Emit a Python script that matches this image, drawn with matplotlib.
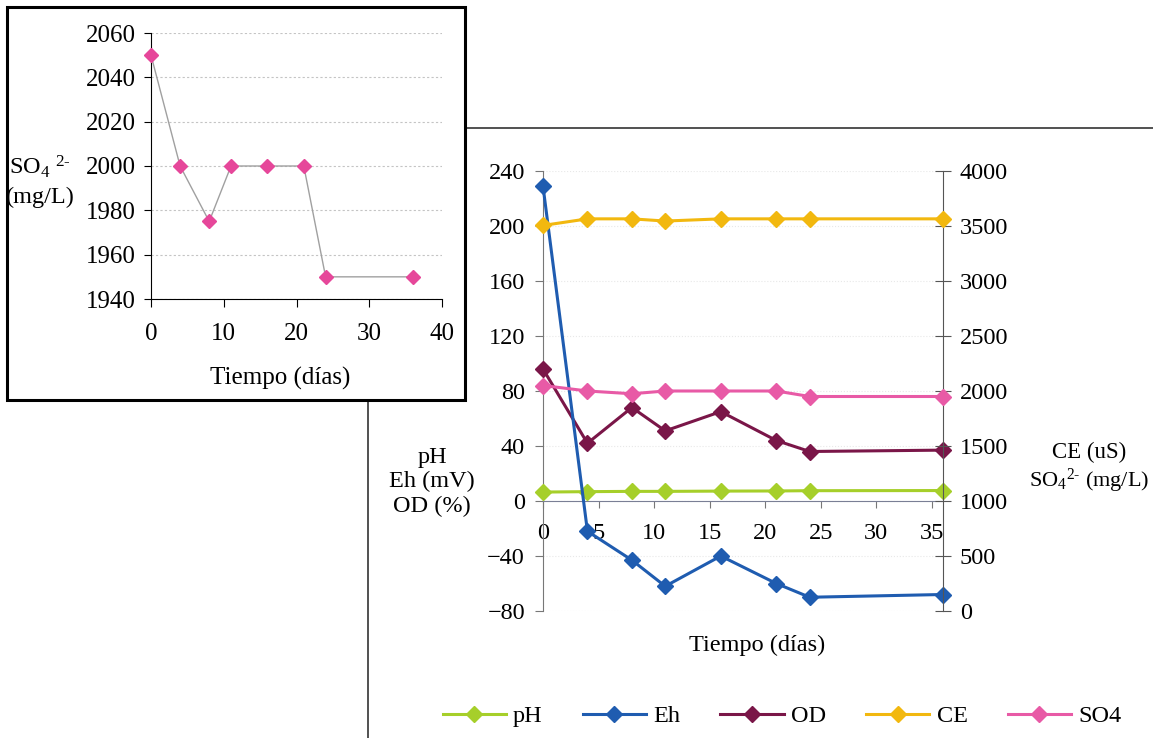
import matplotlib.pyplot as plt
from matplotlib.lines import Line2D
from matplotlib.patches import Rectangle

plt.rcParams['font.family'] = ['Liberation Serif', 'DejaVu Serif']
plt.rcParams['mathtext.fontset'] = 'custom'
plt.rcParams['mathtext.rm'] = 'Liberation Serif'
plt.rcParams['mathtext.it'] = 'Liberation Serif:italic'

# data
dias = [0, 4, 8, 11, 16, 21, 24, 36]
ph = [6.5, 6.8, 7.0, 7.0, 7.2, 7.3, 7.5, 7.6]
eh = [229, -22, -43, -62, -40, -60, -70, -68]
od = [96, 42, 68, 51, 65, 44, 36, 37]
ce = [3505, 3565, 3565, 3545, 3565, 3565, 3565, 3565]
so4 = [2050, 2000, 1975, 2000, 2000, 2000, 1950, 1950]

left_ticks = [-80, -40, 0, 40, 80, 120, 160, 200, 240]
right_ticks = [0, 500, 1000, 1500, 2000, 2500, 3000, 3500, 4000]
x_ticks = [0, 5, 10, 15, 20, 25, 30, 35]
inset_yticks = [1940, 1960, 1980, 2000, 2020, 2040, 2060]
inset_xticks = [0, 10, 20, 30, 40]

c_ph = '#A6CF2A'
c_eh = '#1F5CB0'
c_od = '#7A1648'
c_ce = '#F2B80F'
c_so4 = '#E85AA6'

W, H = 1153, 738
fig = plt.figure(figsize=(W / 100, H / 100), dpi=100)


def fx(x):
    return x / W


def fy(y):
    return 1 - y / H


fs = 17.5
fsi = 18

# frame of the main chart (partly hidden by the inset)
fig.lines.append(Line2D([fx(368), fx(368), 1.0], [0.0, fy(128), fy(128)],
                        transform=fig.transFigure, color='#333333', lw=1.2, zorder=-3))
# inset box
fig.patches.append(Rectangle((fx(7), fy(400)), fx(465) - fx(7), fy(7) - fy(400),
                             transform=fig.transFigure, facecolor='white',
                             edgecolor='black', lw=2.2, zorder=-2))

# ---- main chart ----
ax = fig.add_axes([fx(543), fy(611), fx(943) - fx(543), fy(171) - fy(611)])
ax.set_facecolor('none')
ax.set_xlim(0, 36)
ax.set_ylim(-80, 240)
ax.set_yticks(left_ticks)
ax.set_xticks(x_ticks)
ax.spines['top'].set_visible(False)
ax.spines['right'].set_visible(False)
ax.spines['bottom'].set_position(('data', 0))
ax.spines['bottom'].set_color('#7A7F95')
ax.spines['left'].set_color('#777777')
ax.tick_params(axis='y', direction='out', length=6, pad=7, labelsize=fs, color='#777777')
ax.tick_params(axis='x', direction='out', length=5, pad=11, labelsize=fs, color='#777777')
ax.grid(axis='y', color='#E8E8E8', lw=0.8, ls=':')
ax.set_axisbelow(True)

ax2 = ax.twinx()
ax2.set_ylim(0, 4000)
ax2.set_yticks(right_ticks)
for s in ['top', 'left', 'bottom']:
    ax2.spines[s].set_visible(False)
ax2.spines['right'].set_color('#555555')
ax2.tick_params(axis='y', direction='inout', length=12, pad=6, labelsize=fs, color='#555555')

ms = 8.5
lw = 2.2
ax.plot(dias, ph, color=c_ph, lw=lw, marker='D', ms=ms, clip_on=False, zorder=3)
ax.plot(dias, eh, color=c_eh, lw=lw, marker='D', ms=ms, clip_on=False, zorder=4)
ax.plot(dias, od, color=c_od, lw=lw, marker='D', ms=ms, clip_on=False, zorder=3)
ax2.plot(dias, ce, color=c_ce, lw=lw, marker='D', ms=ms, clip_on=False, zorder=3)
ax2.plot(dias, so4, color=c_so4, lw=lw, marker='D', ms=ms, clip_on=False, zorder=3)

fig.text(fx(432), fy(482), 'pH\nEh (mV)\nOD (%)', ha='center', va='center',
         fontsize=fs, linespacing=1.2)
fig.text(fx(1089), fy(452), 'CE (uS)', ha='center', va='center', fontsize=16.5)
fig.text(fx(1089), fy(481), r'SO$_4$$^{2\text{-}}$ (mg/L)', ha='center', va='center', fontsize=16)
fig.text(fx(757), fy(645), 'Tiempo (días)', ha='center', va='center', fontsize=fs)

handles = [Line2D([], [], color=c, lw=lw, marker='D', ms=ms) for c in [c_ph, c_eh, c_od, c_ce, c_so4]]
fig.legend(handles, ['pH', 'Eh', 'OD', 'CE', 'SO4'], loc='center', bbox_to_anchor=(fx(782), fy(716)),
           ncol=5, frameon=False, fontsize=fs, handlelength=2.6, handletextpad=0.3,
           columnspacing=1.65)

# ---- inset ----
axi = fig.add_axes([fx(151), fy(299), fx(442) - fx(151), fy(33) - fy(299)])
axi.set_facecolor('none')
axi.set_xlim(0, 40)
axi.set_ylim(1940, 2060)
axi.set_xticks(inset_xticks)
axi.set_yticks(inset_yticks)
axi.spines['top'].set_visible(False)
axi.spines['right'].set_visible(False)
axi.tick_params(axis='y', direction='out', length=5, pad=6, labelsize=fsi)
axi.tick_params(axis='x', direction='out', length=6, pad=11, labelsize=fsi)
axi.grid(axis='y', color='#C4C4C4', lw=0.8, ls=(0, (2, 2)))
axi.set_axisbelow(True)
axi.plot(dias, so4, color='#A0A0A0', lw=1, marker='D', ms=7.5, mfc='#E6479A', mec='#E6479A',
         clip_on=False, zorder=3)

fig.text(fx(40), fy(167), r'SO$_4$ $^{2\text{-}}$', ha='center', va='center', fontsize=fs)
fig.text(fx(40), fy(197), '(mg/L)', ha='center', va='center', fontsize=fs)
fig.text(fx(280), fy(378), 'Tiempo (días)', ha='center', va='center', fontsize=fsi)

fig.savefig('out.png', dpi=100)
